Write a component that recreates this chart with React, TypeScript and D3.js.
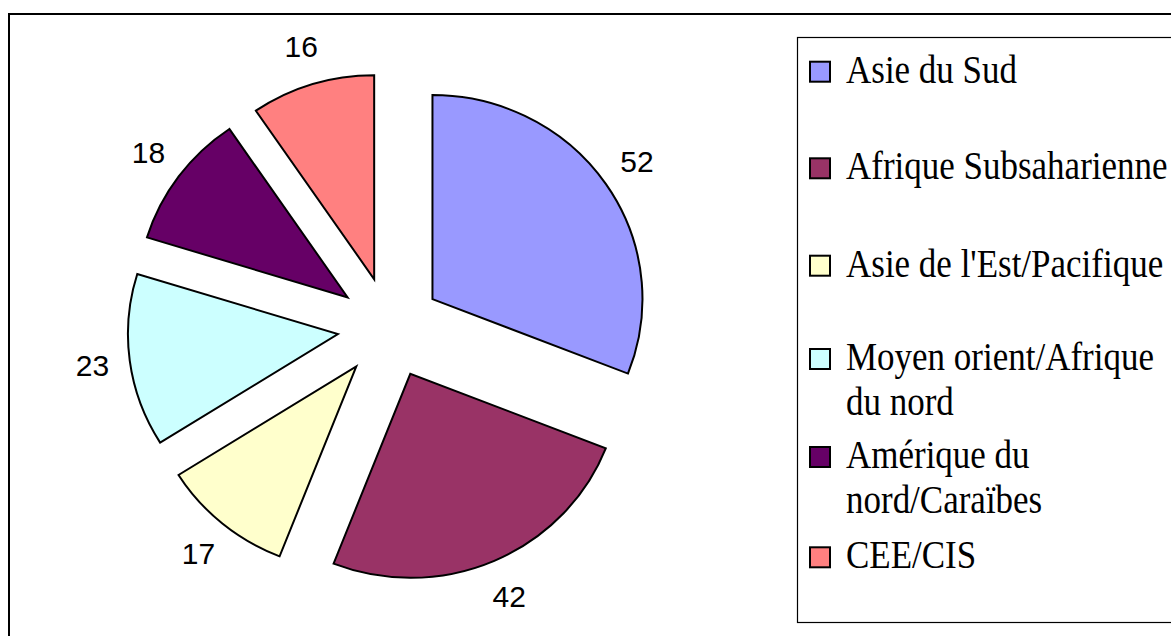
import { useEffect, useRef } from 'react'
import * as d3 from 'd3'

const categories = ['Asie du Sud', 'Afrique Subsaharienne', "Asie de l'Est/Pacifique", 'Moyen orient/Afrique du nord', 'Amérique du nord/Caraïbes', 'CEE/CIS']
const legendLines = [['Asie du Sud'], ['Afrique Subsaharienne'], ["Asie de l'Est/Pacifique"], ['Moyen orient/Afrique', 'du nord'], ['Amérique du', 'nord/Caraïbes'], ['CEE/CIS']]
const values = [52, 42, 17, 23, 18, 16]
const colors = ['#9999FF', '#993366', '#FFFFCC', '#CCFFFF', '#660066', '#FF8080']

const W = 1171, H = 636

export default function App() {
  const svgRef = useRef<SVGSVGElement>(null)

  useEffect(() => {
    const svg = d3.select(svgRef.current)
    svg.selectAll('*').remove()
    svg.attr('width', W).attr('height', H)

    // outer chart frame (runs off the picture right and bottom)
    svg.append('rect').attr('x', 9).attr('y', 14).attr('width', 1300).attr('height', 800)
      .attr('fill', '#fff').attr('stroke', '#000').attr('stroke-width', 2)

    // ── exploded pie ──
    const cx = 389.5, cy = 327.5
    const rx = 210, sy = 204 / 210
    const explode = 52
    const labelR = 283          // anchor radius; the label box is pushed outward from it
    const boxW = 33, boxH = 22

    const pie = d3.pie<number>().sort(null).value(d => d)
    const arcs = pie(values)
    const arc = d3.arc<d3.PieArcDatum<number>>().innerRadius(0).outerRadius(rx)
    const mid = (d: d3.PieArcDatum<number>) => (d.startAngle + d.endAngle) / 2

    const g = svg.append('g').attr('transform', `translate(${cx},${cy}) scale(1,${sy})`)
    g.selectAll('path').data(arcs).join('path')
      .attr('transform', d => `translate(${explode * Math.sin(mid(d))},${-explode * Math.cos(mid(d))})`)
      .attr('d', arc)
      .attr('fill', (_, i) => colors[i])
      .attr('stroke', '#000').attr('stroke-width', 2).attr('stroke-linejoin', 'miter')

    svg.append('g').selectAll('text').data(arcs).join('text')
      .attr('x', d => cx + (labelR + boxW / 2) * Math.sin(mid(d)))
      .attr('y', d => cy - (labelR + boxH / 2) * Math.cos(mid(d)))
      .attr('text-anchor', 'middle').attr('dominant-baseline', 'central')
      .attr('font-family', '"Liberation Sans", Arial, sans-serif').attr('font-size', 30)
      .attr('fill', '#000')
      .text(d => d.data)

    // ── legend ──
    const lg = svg.append('g')
    lg.append('rect').attr('x', 797.5).attr('y', 37.5).attr('width', 500).attr('height', 585)
      .attr('fill', '#fff').attr('stroke', '#000').attr('stroke-width', 1.2)

    const baselines = [82.7, 179.3, 276.7, 370, 468, 568.3]
    const lineGap = 45
    categories.forEach((_, i) => {
      const b = baselines[i]
      lg.append('rect').attr('x', 810).attr('y', b - 21).attr('width', 20).attr('height', 20)
        .attr('fill', colors[i]).attr('stroke', '#000').attr('stroke-width', 2)
      legendLines[i].forEach((line, j) => {
        lg.append('text')
          .attr('transform', `translate(846,${b + j * lineGap}) scale(1,1.12)`)
          .attr('font-family', '"Liberation Serif", "Times New Roman", serif').attr('font-size', 35)
          .attr('fill', '#000')
          .text(line)
      })
    })
  }, [])

  return (
    <div style={{ position: 'absolute', left: 0, top: 0, width: W, height: H, overflow: 'hidden', background: '#fff' }}>
      <svg ref={svgRef} style={{ display: 'block' }} />
    </div>
  )
}
